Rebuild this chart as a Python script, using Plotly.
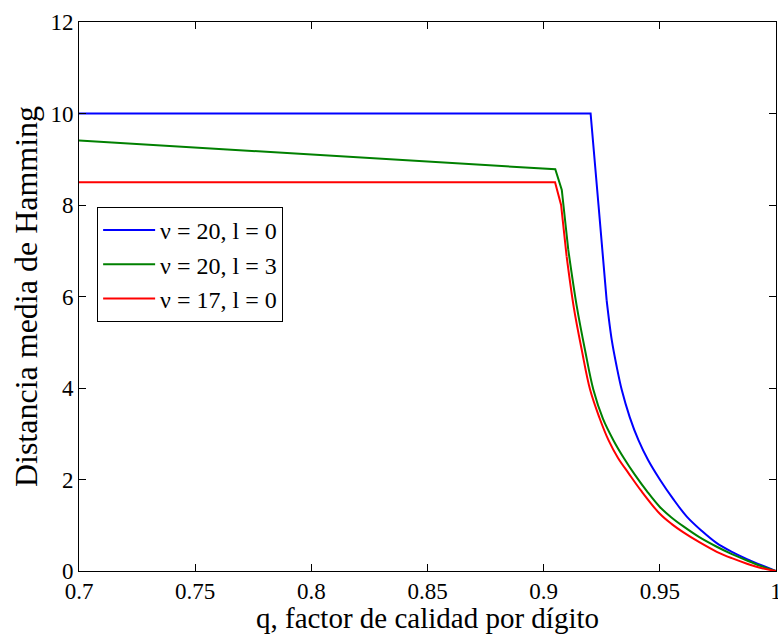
import plotly.graph_objects as go

# Quality factor per digit (q) and mean Hamming distance for each case
q_blue = [0.700, 0.9202, 0.9236, 0.9271, 0.9293, 0.9315, 0.9336, 0.9370, 0.9408,
          0.9450, 0.9500, 0.9558, 0.9616, 0.9680, 0.9745, 0.9810, 0.9875, 0.9940, 1.000]
d_blue = [10.00, 10.00, 8.00, 5.92, 5.05, 4.45, 3.96, 3.37, 2.86,
          2.42, 2.00, 1.57, 1.19, 0.88, 0.61, 0.42, 0.26, 0.12, 0.00]

q_green = [0.700, 0.750, 0.800, 0.850, 0.9050, 0.9078, 0.9106, 0.9142, 0.9178,
           0.9214, 0.9255, 0.9300, 0.9345, 0.9393, 0.9445, 0.9500, 0.9550, 0.9600,
           0.9670, 0.9745, 0.9810, 0.9875, 0.9940, 1.000]
d_green = [9.41, 9.26, 9.11, 8.96, 8.78, 8.33, 7.02, 5.80, 4.83,
           3.96, 3.33, 2.86, 2.47, 2.10, 1.74, 1.40, 1.17, 0.98,
           0.74, 0.53, 0.37, 0.23, 0.10, 0.00]

q_red = [0.700, 0.9049, 0.9075, 0.9099, 0.9130, 0.9164, 0.9200, 0.9240, 0.9279,
         0.9320, 0.9365, 0.9420, 0.9500, 0.9550, 0.9600, 0.9670, 0.9745, 0.9810,
         0.9875, 0.9940, 1.000]
d_red = [8.50, 8.50, 8.00, 6.87, 5.75, 4.83, 3.96, 3.35, 2.86,
         2.47, 2.14, 1.75, 1.25, 1.03, 0.85, 0.63, 0.42, 0.28,
         0.16, 0.06, 0.00]

# index where each curve leaves its straight plateau/drop and starts bending
knee_index = [3, 6, 3]

series_names = ["ν = 20, l = 0", "ν = 20, l = 3", "ν = 17, l = 0"]
series_colors = ["#0000FF", "#008000", "#FF0000"]

x_ticks = [0.7, 0.75, 0.8, 0.85, 0.9, 0.95, 1.0]
x_tick_text = ["0.7", "0.75", "0.8", "0.85", "0.9", "0.95", "1"]
y_ticks = [0, 2, 4, 6, 8, 10, 12]

FONT = "Liberation Serif"

fig = go.Figure()
for i, (qs, ds) in enumerate([(q_blue, d_blue), (q_green, d_green), (q_red, d_red)]):
    k = knee_index[i]
    # straight part: plateau and the steep initial drop
    fig.add_trace(go.Scatter(
        x=qs[:k + 1], y=ds[:k + 1], mode="lines", name=series_names[i],
        legendgroup=f"g{i}",
        line=dict(color=series_colors[i], width=2),
    ))
    # smooth decay towards q = 1
    fig.add_trace(go.Scatter(
        x=qs[k:], y=ds[k:], mode="lines", name=series_names[i],
        legendgroup=f"g{i}", showlegend=False,
        line=dict(color=series_colors[i], width=2, shape="spline", smoothing=1.0),
    ))

axis_common = dict(
    showline=True, linecolor="black", linewidth=1, mirror="ticks",
    ticks="inside", ticklen=7, tickcolor="black", tickwidth=1,
    showgrid=False, zeroline=False, ticklabeloverflow="allow",
    tickfont=dict(family=FONT, size=23, color="black"),
)

fig.update_layout(
    width=778, height=634,
    margin=dict(l=79, r=2, t=22, b=63, autoexpand=False),
    paper_bgcolor="white", plot_bgcolor="white",
    font=dict(family=FONT, color="black"),
    xaxis=dict(range=[0.7, 1.0], tickvals=x_ticks, ticktext=x_tick_text,
               ticklabelstandoff=-1,
               title=dict(text="q, factor de calidad por dígito",
                          font=dict(family=FONT, size=29, color="black"),
                          standoff=2),
               automargin=False, **axis_common),
    yaxis=dict(range=[0, 12], tickvals=y_ticks,
               title=dict(text="Distancia media de Hamming",
                          font=dict(family=FONT, size=32, color="black"),
                          standoff=3),
               automargin=False, **axis_common),
    legend=dict(
        x=0.026, y=0.663, xanchor="left", yanchor="top",
        bgcolor="white", bordercolor="black", borderwidth=1,
        font=dict(family=FONT, size=24, color="black"),
        tracegroupgap=0, itemwidth=52,
    ),
)

fig.write_html("out.html")
